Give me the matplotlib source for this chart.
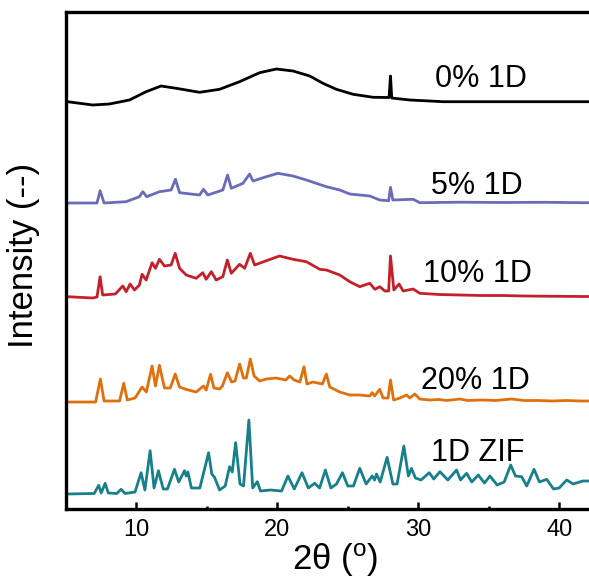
import matplotlib
matplotlib.use("Agg")
import matplotlib.pyplot as plt
from matplotlib.ticker import MultipleLocator

plt.rcParams['font.family'] = ['Liberation Sans', 'DejaVu Sans']
plt.rcParams['mathtext.fontset'] = 'custom'
plt.rcParams['mathtext.rm'] = 'Liberation Sans'

# 2theta / intensity (intensity relative to each baseline)
zif_x = [5.1, 7.0, 7.32, 7.5, 7.78, 8.0, 8.6, 8.91, 9.2, 9.9, 10.33, 10.6, 10.97, 11.25, 11.56,
         11.9, 12.2, 12.7, 13.0, 13.41, 13.53, 13.65, 13.9, 14.5, 15.12, 15.35, 15.54, 15.9, 16.3,
         16.61, 16.8, 17.04, 17.35, 17.6, 17.98, 18.25, 18.58, 18.8, 19.5, 20.3, 20.75, 21.2, 21.75,
         22.2, 22.65, 23.0, 23.41, 23.8, 24.2, 24.62, 25.0, 25.4, 25.85, 26.3, 26.73, 26.9, 27.04,
         27.3, 27.79, 28.2, 28.5, 28.98, 29.3, 29.52, 29.8, 30.2, 30.78, 31.1, 31.54, 32.1, 32.72,
         33.0, 33.43, 33.8, 34.26, 34.7, 35.09, 35.6, 36.1, 36.56, 36.9, 37.34, 37.7, 38.22, 38.6,
         39.12, 39.6, 40.0, 40.54, 41.0, 41.68, 42.2]
zif_y = [0, 0.5, 8.7, 1, 10.7, 1, 0.5, 4.7, 0.5, 2, 21.3, 4, 43.3, 6, 23.3,
         5, 5, 24.7, 12, 23.3, 18, 22, 6, 6, 41.3, 20, 16.7, 4, 8,
         27.3, 22, 51.3, 10, 8, 74, 6, 12.3, 3, 4, 3, 18, 5, 21.3,
         6, 10.7, 6, 24, 6, 10, 21.3, 8, 8, 25.7, 10, 18, 14, 20,
         12, 36.7, 10, 10, 48, 18, 25.7, 16, 14, 21.3, 15, 22.3, 14, 24,
         14, 20.7, 12, 19, 11, 18, 9, 12, 29, 18, 17.3, 8, 24.7, 12,
         14.7, 5, 6, 14, 10, 13, 13]

p20_x = [5.1, 7.1, 7.44, 7.7, 8.8, 9.1, 9.35, 9.9, 10.4, 10.7, 11.11, 11.35, 11.63, 11.99, 12.4,
         12.75, 13.06, 13.5, 14.24, 14.76, 14.95, 15.26, 15.5, 15.9, 16.1, 16.45, 16.75, 17.0, 17.32,
         17.6, 17.8, 18.08, 18.35, 18.74, 19.22, 19.9, 20.6, 20.87, 21.2, 21.6, 21.89, 22.1, 22.53,
         23.2, 23.48, 23.72, 24.43, 25.14, 25.85, 26.56, 26.73, 26.9, 27.27, 27.5, 27.86, 28.03, 28.25,
         28.7, 29.17, 29.4, 29.76, 30.11, 30.8, 31.5, 32.0, 32.96, 33.5, 34.5, 35.5, 36.6, 37.5,
         38.5, 39.5, 40.5, 41.5, 42.2]
p20_y = [0, 0, 23, 1, 1, 18.7, 2, 4, 15, 10, 36, 16, 36.7, 14, 14,
         28, 15, 12.7, 10, 16, 12, 27.7, 14, 13, 16, 29.3, 20, 21, 38,
         24, 24, 43, 26, 21, 23, 24, 22, 26, 22, 20, 35.3, 18, 20,
         18, 28, 15, 10, 7, 7, 6, 9.3, 6, 12.7, 4, 4, 22, 2,
         4, 7, 4, 8, 3, 2, 2.5, 1.5, 3, 1.5, 2, 1.5, 3, 1.5,
         1.5, 1, 1.5, 1, 1]

p10_x = [5.1, 6.9, 7.2, 7.42, 7.6, 8.5, 9.03, 9.27, 9.55, 9.86, 10.21, 10.4, 10.69, 11.11, 11.35,
         11.63, 11.99, 12.46, 12.75, 13.06, 13.53, 14.24, 14.71, 14.95, 15.31, 15.66, 16.13, 16.45,
         16.73, 17.32, 17.68, 18.08, 18.39, 19.22, 20.16, 21.11, 22.06, 23.01, 23.48, 24.43, 25.14,
         25.85, 26.56, 26.92, 27.27, 27.63, 27.9, 28.03, 28.27, 28.64, 28.93, 29.64, 30.11, 31.5,
         32.96, 34.5, 36.0, 37.5, 39.0, 41.68, 42.2]
p10_y = [0.3, -1, 0, 20.3, 2, 3, 11, 5.3, 13, 7, 12, 22.7, 17, 34.3, 28.7,
         37.7, 31, 32, 43.7, 28.7, 22, 18.7, 24.3, 17.7, 25.3, 17, 20.3, 37,
         23.7, 32.7, 28.7, 43.7, 32, 36.3, 41, 37.7, 35.3, 27.7, 27, 22, 15.3,
         10.3, 13.7, 7.7, 10.3, 6, 6, 41, 7, 13, 6, 8, 3.7, 2.5,
         2, 1.5, 1.5, 1, 0.8, 0.5, 0.5]

p5_x = [5.1, 7.2, 7.42, 7.7, 9.27, 10.21, 10.45, 10.73, 11.63, 12.46, 12.77, 13.06, 14.48, 14.76,
        15.07, 16.13, 16.47, 16.73, 17.56, 18.03, 18.27, 19.22, 20.04, 21.11, 22.06, 23.48, 24.43,
        25.14, 26.56, 27.27, 27.9, 28.03, 28.2, 29.64, 30.11, 33.0, 36.0, 39.0, 41.68, 42.2]
p5_y = [0, 0, 12.3, 0, 1.3, 6.3, 11.3, 6.3, 11.3, 13, 23.7, 10.3, 8, 13.7,
        8, 13, 28, 14.7, 19.7, 29, 22, 26.3, 29.7, 27, 23, 16.3, 13,
        9, 7, 3, 2.3, 15.7, 3, 3.7, 0.3, 0.8, 0.5, 0.7, 0.3, 0.3]

p0_x = [5.1, 6.9, 8.08, 9.5, 10.69, 11.75, 12.82, 14.48, 15.9, 17.32, 18.74, 19.93, 21.11, 22.3,
        23.24, 24.19, 25.38, 26.8, 27.93, 28.03, 28.12, 29.4, 31.77, 41.68, 42.2]
p0_y = [0.3, -3, -2, 2, 10.3, 16, 13.7, 9.7, 12.7, 20.3, 29.3, 33, 31, 26,
        18.7, 12.7, 7.7, 4.7, 4.5, 26, 4, 2, 0.3, 0.3, 0.3]

offsets = [15, 107, 212, 306, 407]
names = ["1D ZIF", "20% 1D", "10% 1D", "5% 1D", "0% 1D"]
colors = ["#17808a", "#e0700c", "#c4202a", "#6b6bb8", "#000000"]
xs = [zif_x, p20_x, p10_x, p5_x, p0_x]
ys = [zif_y, p20_y, p10_y, p5_y, p0_y]
label_x = [30.88, 30.23, 30.35, 30.88, 31.18]
label_y = [56, 128, 235, 323, 430]

fig = plt.figure(figsize=(5.89, 5.80), dpi=100)
ax = fig.add_axes([66/589, 71/580, 523/589, 497/580])

for x, y, off, c in zip(xs, ys, offsets, colors):
    ax.plot(x, [v + off for v in y], color=c, lw=2.0, solid_joinstyle='round')

for name, lx, ly in zip(names, label_x, label_y):
    ax.text(lx, ly, name, fontsize=22, va='center', ha='left')

ax.set_xlim(5, 42.12)
ax.set_ylim(0, 497)
ax.set_yticks([])
ax.xaxis.set_major_locator(MultipleLocator(10))
ax.xaxis.set_minor_locator(MultipleLocator(5))
ax.tick_params(axis='x', which='major', direction='in', length=5, width=1.8,
               labelsize=17, pad=7)
ax.tick_params(axis='x', which='minor', direction='in', length=2.5, width=1.8)
ax.spines['right'].set_visible(False)
for s in ['left', 'top', 'bottom']:
    ax.spines[s].set_linewidth(2.4)

fig.text(335/589, 10/580, r"2θ ($\mathregular{^o}$)", fontsize=25, ha='center', va='baseline')
fig.text(24/589, 1 - 255/580, "Intensity (--)", fontsize=25, rotation=90,
         ha='center', va='center')

fig.savefig("out.png", dpi=100)
